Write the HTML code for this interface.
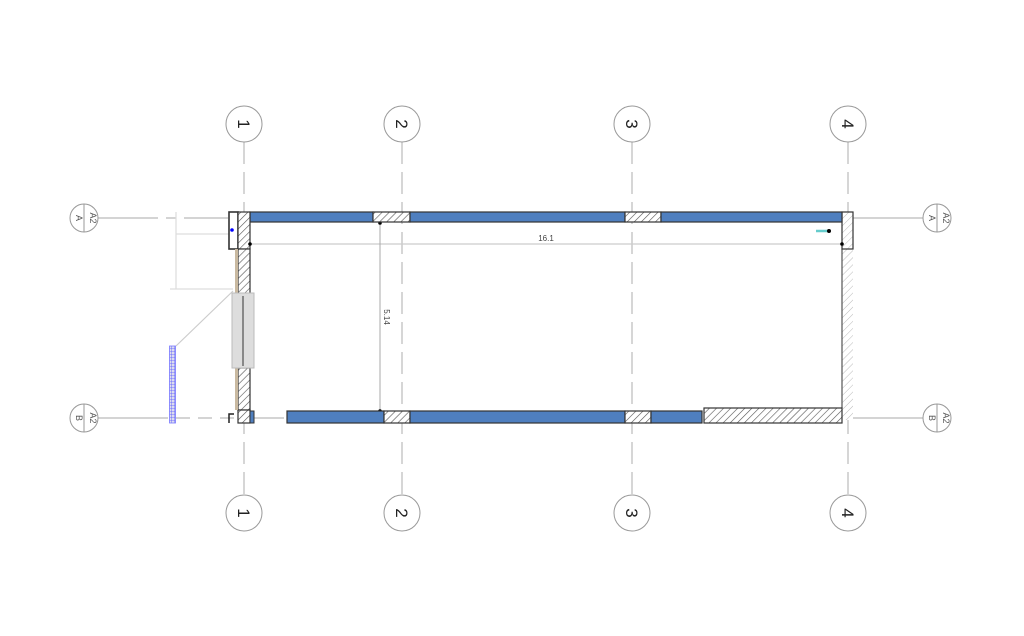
<!DOCTYPE html>
<html><head><style>html,body{margin:0;padding:0;background:#fff;}svg{display:block}</style></head>
<body>
<svg width="1024" height="636" viewBox="0 0 1024 636" xmlns="http://www.w3.org/2000/svg" font-family="Liberation Sans, sans-serif">
<defs>
<pattern id="h" patternUnits="userSpaceOnUse" width="5" height="5" patternTransform="rotate(45)">
<rect width="5" height="5" fill="#fff"/><line x1="0" y1="0" x2="0" y2="5" stroke="#555" stroke-width="1.2"/></pattern>
<pattern id="hl" patternUnits="userSpaceOnUse" width="5" height="5" patternTransform="rotate(45)">
<rect width="5" height="5" fill="#fff"/><line x1="0" y1="0" x2="0" y2="5" stroke="#bbb" stroke-width="1"/></pattern>
<pattern id="g" patternUnits="userSpaceOnUse" width="3" height="3">
<rect width="3" height="3" fill="#dde"/><path d="M0 0H3M0 0V3" stroke="#55f" stroke-width="0.8"/></pattern>
</defs>
<g stroke="#bbb" stroke-width="1.2" fill="none">
<!-- grid lines -->
<line x1="244" y1="142" x2="244" y2="496" stroke-dasharray="22 8"/>
<line x1="402" y1="142" x2="402" y2="496" stroke-dasharray="22 8"/>
<line x1="632" y1="142" x2="632" y2="496" stroke-dasharray="22 8"/>
<line x1="848" y1="142" x2="848" y2="494" stroke-dasharray="22 8"/>
<line x1="98" y1="218" x2="228" y2="218" stroke-dasharray="60 8 10 8"/>
<line x1="98" y1="418" x2="284" y2="418" stroke-dasharray="70 8 14 8 14 8 14 8"/>
<line x1="853" y1="218" x2="924" y2="218"/>
<line x1="853" y1="418" x2="924" y2="418"/>
<!-- light lines left -->
<line x1="176" y1="212" x2="176" y2="289" stroke="#ddd"/>
<line x1="176" y1="234" x2="229" y2="234" stroke="#ddd"/>
<line x1="170" y1="289" x2="233" y2="289" stroke="#ddd"/>
<line x1="176" y1="346" x2="233" y2="291" stroke="#ccc"/>
</g>
<!-- circles -->
<g stroke="#999" stroke-width="1" fill="#fff">
<circle cx="244" cy="124" r="18"/><circle cx="402" cy="124" r="18"/><circle cx="632" cy="124" r="18"/><circle cx="848" cy="124" r="18"/>
<circle cx="244" cy="513" r="18"/><circle cx="402" cy="513" r="18"/><circle cx="632" cy="513" r="18"/><circle cx="848" cy="513" r="18"/>
<circle cx="84" cy="218" r="14"/><circle cx="84" cy="418" r="14"/><circle cx="937" cy="218" r="14"/><circle cx="937" cy="418" r="14"/>
<line x1="84" y1="204" x2="84" y2="232"/><line x1="84" y1="404" x2="84" y2="432"/>
<line x1="937" y1="204" x2="937" y2="232"/><line x1="937" y1="404" x2="937" y2="432"/>
</g>
<g font-size="17" fill="#222" text-anchor="middle">
<text transform="translate(244,124) rotate(90)" y="6">1</text>
<text transform="translate(402,124) rotate(90)" y="6">2</text>
<text transform="translate(632,124) rotate(90)" y="6">3</text>
<text transform="translate(848,124) rotate(90)" y="6">4</text>
<text transform="translate(244,513) rotate(90)" y="6">1</text>
<text transform="translate(402,513) rotate(90)" y="6">2</text>
<text transform="translate(632,513) rotate(90)" y="6">3</text>
<text transform="translate(848,513) rotate(90)" y="6">4</text>
</g>
<g font-size="9" fill="#555" text-anchor="middle">
<text transform="translate(89,218) rotate(90)" y="-1">A2</text><text transform="translate(79,218) rotate(90)" y="3">A</text>
<text transform="translate(89,418) rotate(90)" y="-1">A2</text><text transform="translate(79,418) rotate(90)" y="3">B</text>
<text transform="translate(942,218) rotate(90)" y="-1">A2</text><text transform="translate(932,218) rotate(90)" y="3">A</text>
<text transform="translate(942,418) rotate(90)" y="-1">A2</text><text transform="translate(932,418) rotate(90)" y="3">B</text>
</g>
<!-- dimensions -->
<line x1="250" y1="244" x2="842" y2="244" stroke="#ccc" stroke-width="1.2"/>
<text x="546" y="241" font-size="8" fill="#444" text-anchor="middle">16.1</text>
<line x1="380" y1="222" x2="380" y2="411" stroke="#aaa" stroke-width="1"/>
<circle cx="380" cy="223" r="1.8" fill="#000"/><circle cx="380" cy="411" r="1.8" fill="#000"/>
<text transform="translate(384,317) rotate(90)" font-size="8" fill="#444" text-anchor="middle">5.14</text>
<!-- right thin wall -->
<rect x="842" y="222" width="11" height="198" fill="url(#hl)"/>
<line x1="842" y1="249" x2="842" y2="408" stroke="#555" stroke-width="1.2"/>
<rect x="842" y="212" width="11" height="37" fill="url(#hl)" stroke="#333" stroke-width="1.2"/>
<!-- top wall -->
<g stroke="#333" stroke-width="1.2">
<rect x="250" y="212" width="123" height="10" fill="#4f7fbf"/>
<rect x="373" y="212" width="37" height="10" fill="url(#h)"/>
<rect x="410" y="212" width="215" height="10" fill="#4f7fbf"/>
<rect x="625" y="212" width="36" height="10" fill="url(#h)"/>
<rect x="661" y="212" width="181" height="10" fill="#4f7fbf"/>
<!-- bottom wall -->
<rect x="287" y="411" width="97" height="12" fill="#4f7fbf"/>
<rect x="384" y="411" width="26" height="12" fill="url(#h)"/>
<rect x="410" y="411" width="215" height="12" fill="#4f7fbf"/>
<rect x="625" y="411" width="26" height="12" fill="url(#h)"/>
<rect x="651" y="411" width="51" height="12" fill="#4f7fbf"/>
<rect x="704" y="408" width="138" height="15" fill="url(#h)"/>
<!-- left wall -->
<rect x="229" y="212" width="9" height="37" fill="#fff" stroke-width="1.6"/>
<rect x="238" y="212" width="12" height="37" fill="url(#h)"/>
<rect x="238" y="249" width="12" height="48" fill="url(#h)"/>
<rect x="238" y="368" width="12" height="42" fill="url(#h)"/>
<rect x="238" y="410" width="12" height="13" fill="url(#h)"/>
</g>
<circle cx="232" cy="230" r="1.8" fill="#00f"/>
<rect x="235" y="249" width="3" height="48" fill="#c9b9a0"/>
<rect x="235" y="368" width="3" height="42" fill="#c9b9a0"/>
<rect x="232" y="293" width="22" height="75" fill="#ddd" stroke="#bbb"/>
<line x1="243" y1="296" x2="243" y2="366" stroke="#333" stroke-width="1"/>
<path d="M229 423V414h5" stroke="#222" stroke-width="1.5" fill="none"/>
<rect x="250" y="411" width="4" height="12" fill="#4f7fbf" stroke="#333"/>
<circle cx="250" cy="244" r="1.8" fill="#000"/><circle cx="842" cy="244" r="1.8" fill="#000"/>
<!-- cyan mark -->
<line x1="816" y1="231" x2="828" y2="231" stroke="#6cc" stroke-width="2.5"/><circle cx="829" cy="231" r="2" fill="#000"/>
<!-- blue grid rect -->
<rect x="169.5" y="346" width="6" height="77" fill="url(#g)" stroke="#77f" stroke-width="0.8"/>
</svg>
</body></html>
